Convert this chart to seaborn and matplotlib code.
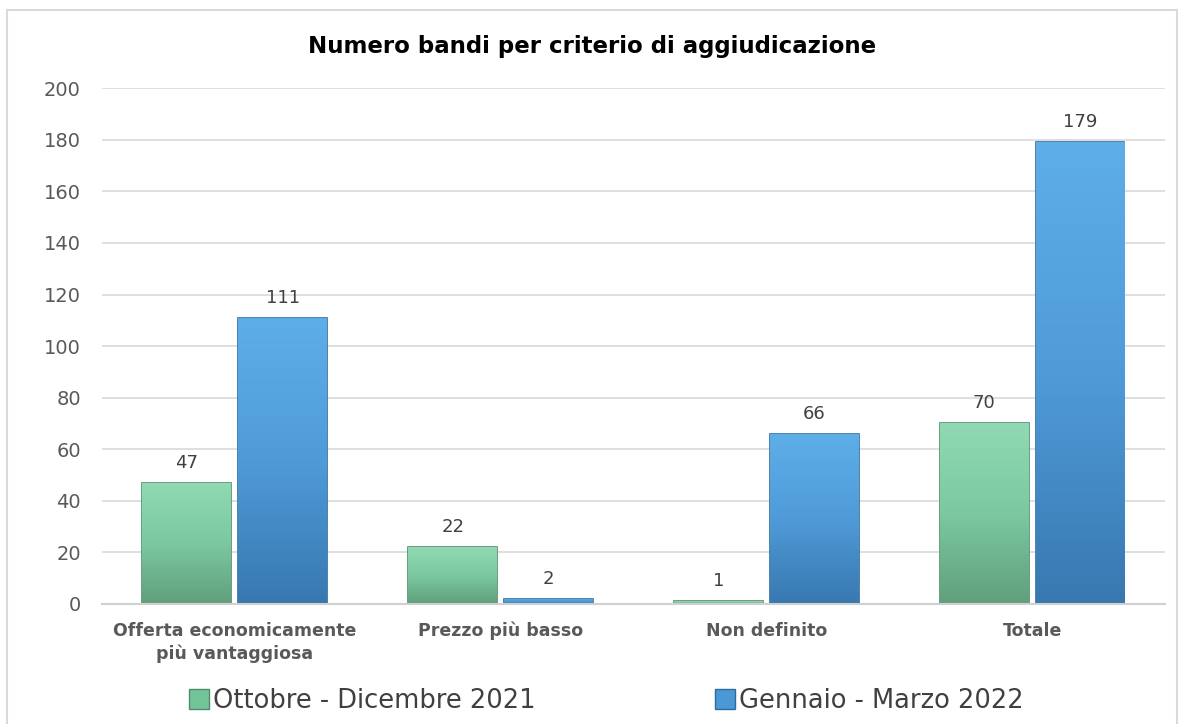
import numpy as np
import pandas as pd
import seaborn as sns
import matplotlib.pyplot as plt
from matplotlib.patches import Rectangle
from matplotlib.colors import LinearSegmentedColormap

# Data
categories = ["Offerta economicamente\npiù vantaggiosa", "Prezzo più basso", "Non definito", "Totale"]
periods = ["Ottobre - Dicembre 2021", "Gennaio - Marzo 2022"]
ott_dic_2021 = [47, 22, 1, 70]
gen_mar_2022 = [111, 2, 66, 179]

df = pd.DataFrame({
    "criterio": categories * 2,
    "periodo": [periods[0]] * 4 + [periods[1]] * 4,
    "bandi": ott_dic_2021 + gen_mar_2022,
})

sns.set_theme(style="white")
plt.rcParams["font.family"] = ["DejaVu Sans"]

fig = plt.figure(figsize=(11.84, 7.24), dpi=100)
ax = fig.add_axes([0.086, 0.166, 0.898, 0.712])

palette = {periods[0]: "#74c49a", periods[1]: "#4a98d4"}
edges = {periods[0]: "#4f8c6c", periods[1]: "#2f6c9c"}
grads = {
    periods[0]: LinearSegmentedColormap.from_list("g", ["#5f9f7c", "#7cc8a0", "#8fdab2"]),
    periods[1]: LinearSegmentedColormap.from_list("b", ["#3878b0", "#4f9bd8", "#5eaee8"]),
}

sns.barplot(data=df, x="criterio", y="bandi", hue="periodo", palette=palette,
            width=0.72, gap=0.07, ax=ax, legend=False, zorder=3)

# gradient fill + darker edges per series
grad = np.linspace(0, 1, 256).reshape(-1, 1)
for cont, p in zip(ax.containers, periods):
    for bar in cont:
        bar.set_edgecolor(edges[p])
        bar.set_linewidth(1.2)
        x0, y0 = bar.get_x(), bar.get_y()
        w, h = bar.get_width(), bar.get_height()
        im = ax.imshow(grad, extent=[x0, x0 + w, y0, y0 + h], origin="lower",
                       cmap=grads[p], aspect="auto", zorder=3.5)
        im.set_clip_path(bar)
    ax.bar_label(cont, padding=8, fontsize=13, color="#404040")

ax.set_xlim(-0.5, 3.5)
ax.set_ylim(0, 200)
ax.set_yticks(range(0, 201, 20))
ax.yaxis.grid(True, color="#d9d9d9", linewidth=1.2, zorder=0)
ax.set_axisbelow(True)
for s in ["top", "right", "left"]:
    ax.spines[s].set_visible(False)
ax.spines["bottom"].set_color("#d0d0d0")
ax.spines["bottom"].set_linewidth(1.5)
ax.spines["bottom"].set_zorder(5)
ax.tick_params(axis="y", length=0, labelsize=14, labelcolor="#595959", pad=15)
ax.tick_params(axis="x", length=0, labelsize=12.5, labelcolor="#595959", pad=13)
for lab in ax.get_xticklabels():
    lab.set_fontweight("bold")
    lab.set_linespacing(1.3)
ax.set_xlabel("")
ax.set_ylabel("")

fig.text(0.5, 0.936, "Numero bandi per criterio di aggiudicazione",
         ha="center", va="center", fontsize=16.5, fontweight="bold", color="black")

handles = [Rectangle((0, 0), 1, 1, facecolor=palette[p], edgecolor=edges[p]) for p in periods]
fig.legend(handles, periods, loc="center", bbox_to_anchor=(0.512, 0.032), ncol=2,
           frameon=False, fontsize=18.5, handlelength=0.78, handleheight=0.78,
           handletextpad=0.15, columnspacing=7.0, labelcolor="#404040")

fig.patches.append(Rectangle((0.006, -0.01), 0.988, 0.996, transform=fig.transFigure,
                             fill=False, edgecolor="#d9d9d9", linewidth=1.5))

fig.savefig("out.png", dpi=100)
